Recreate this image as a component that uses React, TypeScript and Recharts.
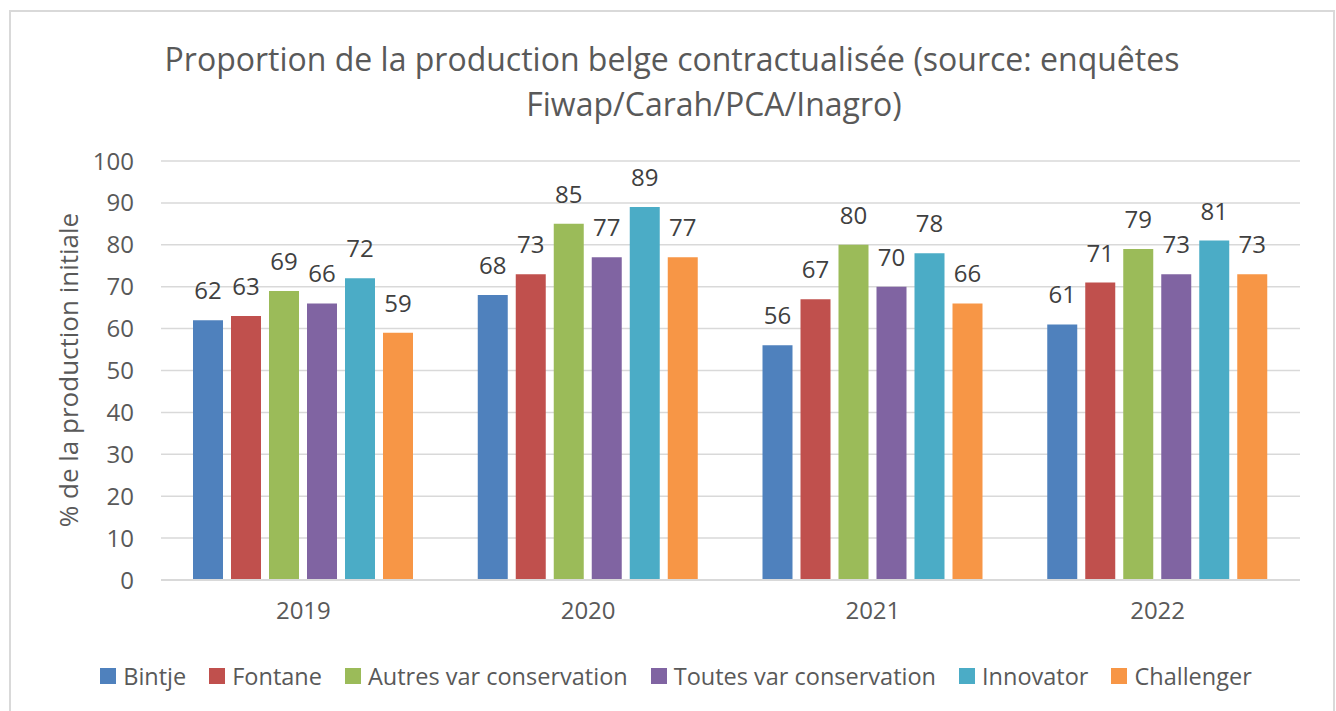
import React from "react"
import { BarChart, Bar, XAxis, YAxis, CartesianGrid, LabelList } from "recharts"

const years = ["2019", "2020", "2021", "2022"]
const bintje = [62, 68, 56, 61]
const fontane = [63, 73, 67, 71]
const autresVar = [69, 85, 80, 79]
const toutesVar = [66, 77, 70, 73]
const innovator = [72, 89, 78, 81]
const challenger = [59, 77, 66, 73]
const yTicks = [0, 10, 20, 30, 40, 50, 60, 70, 80, 90, 100]

const series = [
  { key: "bintje", name: "Bintje", color: "#4f81bd", values: bintje },
  { key: "fontane", name: "Fontane", color: "#c0504d", values: fontane },
  { key: "autres", name: "Autres var conservation", color: "#9bbb59", values: autresVar },
  { key: "toutes", name: "Toutes var conservation", color: "#8064a2", values: toutesVar },
  { key: "innovator", name: "Innovator", color: "#4bacc6", values: innovator },
  { key: "challenger", name: "Challenger", color: "#f79646", values: challenger },
]

const data = years.map((year, i) => {
  const row: Record<string, string | number> = { year }
  series.forEach((s) => {
    row[s.key] = s.values[i]
  })
  return row
})

const textColor = "#595959"
const font = "'Open Sans', sans-serif"

export default function App() {
  return (
    <div style={{ position: "absolute", left: 0, top: 0, width: 1336, height: 711, background: "#fff", fontFamily: font, overflow: "hidden" }}>
      {/* outer frame */}
      <div style={{ position: "absolute", left: 9, top: 10, width: 1322, height: 740, border: "2px solid #d9d9d9" }} />

      {/* title */}
      <div style={{ position: "absolute", left: 0, top: 36, width: 1336, fontSize: 32, color: textColor, lineHeight: "45px" }}>
        <div style={{ textAlign: "center", paddingLeft: 8 }}>Proportion de la production belge contractualisée (source: enquêtes</div>
        <div style={{ textAlign: "center", paddingLeft: 92 }}>Fiwap/Carah/PCA/Inagro)</div>
      </div>

      {/* y axis title */}
      <div
        style={{
          position: "absolute",
          left: 68,
          top: 370,
          transform: "translate(-50%, -50%) rotate(-90deg)",
          whiteSpace: "nowrap",
          fontSize: 26,
          color: textColor,
        }}
      >
        % de la production initiale
      </div>

      <div style={{ position: "absolute", left: 0, top: 0 }}>
        <BarChart width={1336} height={711} data={data} margin={{ top: 161, right: 36, bottom: 101, left: 0 }} barCategoryGap={32} barGap={8}>
          <CartesianGrid vertical={false} stroke="#d9d9d9" strokeWidth={1.5} />
          <XAxis
            dataKey="year"
            height={30}
            axisLine={{ stroke: "#d9d9d9", strokeWidth: 2 }}
            tickLine={false}
            tickMargin={16}
            tick={{ fill: textColor, fontSize: 24 }}
          />
          <YAxis
            width={161}
            domain={[0, 100]}
            ticks={yTicks}
            axisLine={false}
            tickLine={false}
            tickMargin={21}
            tick={{ fill: textColor, fontSize: 24 }}
          />
          {series.map((s) => (
            <Bar key={s.key} dataKey={s.key} name={s.name} fill={s.color} isAnimationActive={false}>
              <LabelList dataKey={s.key} position="top" offset={21} fill="#404040" fontSize={24} />
            </Bar>
          ))}
        </BarChart>
      </div>

      {/* legend */}
      <div style={{ position: "absolute", left: 0, top: 660, width: 1352, display: "flex", justifyContent: "center", alignItems: "center", gap: 23, fontSize: 23.5, color: textColor }}>
        {series.map((s) => (
          <div key={s.key} style={{ display: "flex", alignItems: "center", gap: 7 }}>
            <span style={{ display: "inline-block", width: 16, height: 16, background: s.color }} />
            <span>{s.name}</span>
          </div>
        ))}
      </div>
    </div>
  )
}
